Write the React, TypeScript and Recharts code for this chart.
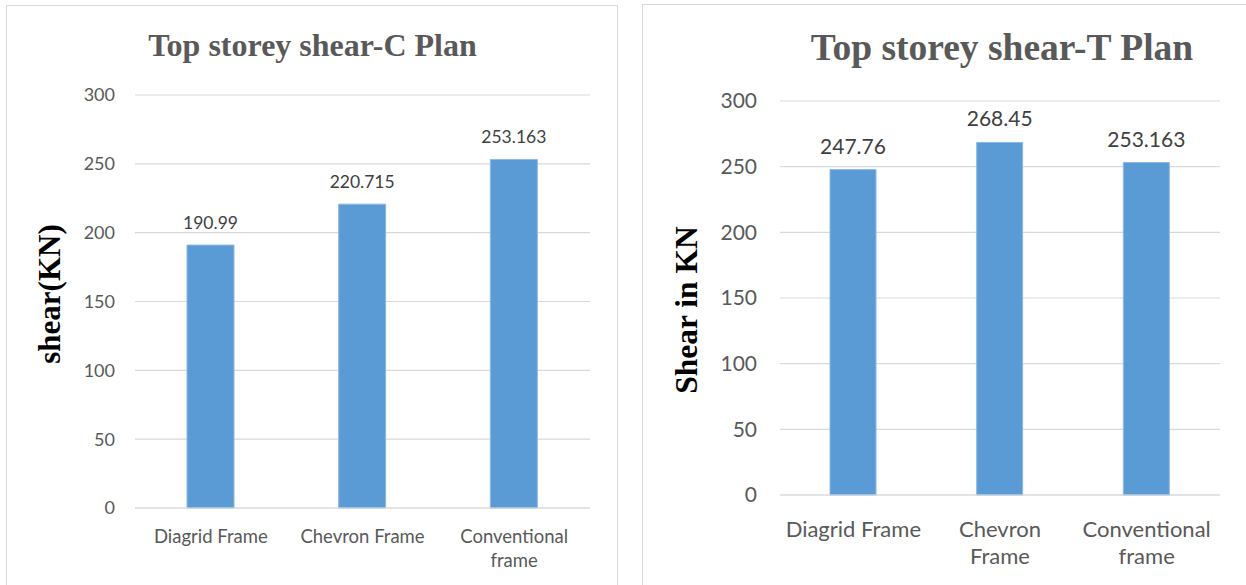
import React from "react";
import { BarChart, Bar, XAxis, YAxis, CartesianGrid, LabelList } from "recharts";

// ---- Data ----
const categoriesC = ["Diagrid Frame", "Chevron Frame", "Conventional\nframe"];
const shearC = [190.99, 220.715, 253.163];

const categoriesT = ["Diagrid Frame", "Chevron\nFrame", "Conventional\nframe"];
const shearT = [247.76, 268.45, 253.163];

const yTicks = [0, 50, 100, 150, 200, 250, 300];

const titleC = "Top storey shear-C Plan";
const titleT = "Top storey shear-T Plan";
const yLabelC = "shear(KN)";
const yLabelT = "Shear in KN";

const dataC = categoriesC.map((c, i) => ({ name: c, value: shearC[i] }));
const dataT = categoriesT.map((c, i) => ({ name: c, value: shearT[i] }));

const SANS = "Lato, 'Open Sans', sans-serif";
const SERIF = "'Liberation Serif', 'DejaVu Serif', serif";
const BAR = "#5B9BD5";
const GRID = "#d9d9d9";

const makeTick = (fontSize: number, firstDy: number, lineH: number) => (props: any) => {
  const { x, y, payload } = props;
  const lines = String(payload.value).split("\n");
  return (
    <text x={x} y={y} textAnchor="middle" fill="#595959" fontSize={fontSize} fontFamily={SANS}>
      {lines.map((l, i) => (
        <tspan key={i} x={x} dy={i === 0 ? firstDy : lineH}>
          {l}
        </tspan>
      ))}
    </text>
  );
};

export default function App() {
  return (
    <div style={{ position: "absolute", left: 0, top: 0, width: 1246, height: 585, overflow: "hidden", background: "#fff" }}>
      {/* chart frames */}
      <div style={{ position: "absolute", left: 6, top: 5, width: 612, height: 620, border: "1.5px solid #d9d9d9", boxSizing: "border-box" }} />
      <div style={{ position: "absolute", left: 642, top: 4, width: 700, height: 620, border: "1.5px solid #d9d9d9", boxSizing: "border-box" }} />

      {/* Left chart */}
      <div style={{ position: "absolute", left: 0, top: 0 }}>
        <BarChart width={620} height={585} data={dataC} margin={{ top: 95, right: 30, bottom: 47, left: 75 }}>
          <CartesianGrid vertical={false} stroke={GRID} strokeWidth={1.2} />
          <XAxis
            dataKey="name"
            height={30}
            axisLine={{ stroke: GRID, strokeWidth: 1.2 }}
            tickLine={false}
            tickSize={0}
            tickMargin={0}
            interval={0}
            tick={makeTick(18.5, 35, 24)}
          />
          <YAxis
            width={60}
            domain={[0, 300]}
            ticks={yTicks}
            axisLine={false}
            tickLine={false}
            tickSize={0}
            tickMargin={20}
            tick={{ fill: "#595959", fontSize: 18, fontFamily: SANS }}
          />
          <Bar dataKey="value" fill={BAR} stroke="#8fb8e2" strokeWidth={1} barSize={47} isAnimationActive={false}>
            <LabelList dataKey="value" position="top" offset={16} fill="#404040" fontSize={17.5} fontFamily={SANS} />
          </Bar>
        </BarChart>
      </div>

      {/* Right chart */}
      <div style={{ position: "absolute", left: 620, top: 0 }}>
        <BarChart width={626} height={585} data={dataT} margin={{ top: 101, right: 26, bottom: 60, left: 100 }}>
          <CartesianGrid vertical={false} stroke={GRID} strokeWidth={1.2} />
          <XAxis
            dataKey="name"
            height={30}
            axisLine={{ stroke: GRID, strokeWidth: 1.2 }}
            tickLine={false}
            tickSize={0}
            tickMargin={0}
            interval={0}
            tick={makeTick(22, 42, 27)}
          />
          <YAxis
            width={60}
            domain={[0, 300]}
            ticks={yTicks}
            axisLine={false}
            tickLine={false}
            tickSize={0}
            tickMargin={23}
            tick={{ fill: "#595959", fontSize: 21, fontFamily: SANS }}
          />
          <Bar dataKey="value" fill={BAR} stroke="#8fb8e2" strokeWidth={1} barSize={46} isAnimationActive={false}>
            <LabelList dataKey="value" position="top" offset={16} fill="#404040" fontSize={21} fontFamily={SANS} />
          </Bar>
        </BarChart>
      </div>

      {/* Titles and axis titles */}
      <svg width={1246} height={585} style={{ position: "absolute", left: 0, top: 0, pointerEvents: "none" }}>
        <text x={312.5} y={56} textAnchor="middle" fill="#595959" fontSize={32} fontWeight="bold" fontFamily={SERIF}>
          {titleC}
        </text>
        <text x={1002} y={60} textAnchor="middle" fill="#595959" fontSize={37.5} fontWeight="bold" fontFamily={SERIF}>
          {titleT}
        </text>
        <text x={60} y={294} transform="rotate(-90 60 294)" textAnchor="middle" fill="#000" fontSize={31} fontWeight="bold" fontFamily={SERIF}>
          {yLabelC}
        </text>
        <text x={697} y={310} transform="rotate(-90 697 310)" textAnchor="middle" fill="#000" fontSize={31.5} fontWeight="bold" fontFamily={SERIF}>
          {yLabelT}
        </text>
      </svg>
    </div>
  );
}
